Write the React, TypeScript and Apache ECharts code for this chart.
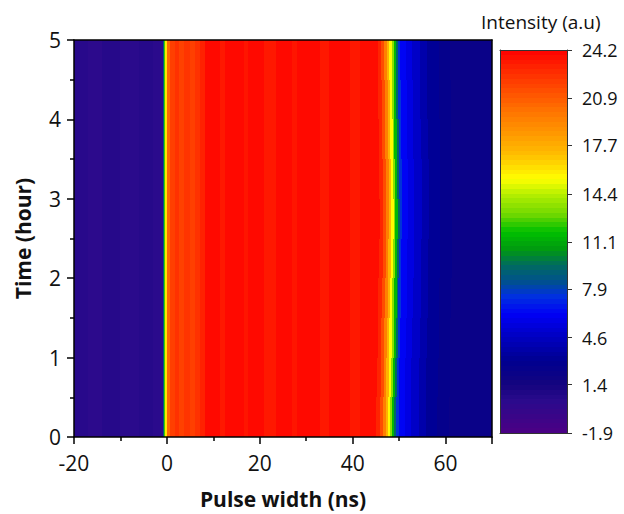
import React, { useEffect, useRef } from 'react';
import * as echarts from 'echarts';

// ---- axis ticks ----
const xMin = -20;
const xMax = 70;
const yMin = 0;
const yMax = 5;
const colorbarTicks = [-1.9, 1.4, 4.6, 7.9, 11.1, 14.4, 17.7, 20.9, 24.2];

// ---- time rows (hours) and falling-edge position per row (ns) ----
const timeRowBounds = [0, 0.5, 1, 1.5, 2, 2.5, 3, 3.5, 4, 4.5, 5];
const fallEdgeByRow = [48.7, 48.85, 49.0, 49.15, 49.3, 49.4, 49.35, 49.2, 49.1, 49.0];

// ---- fixed pulse profile: column bounds (ns) and intensities ----
const baseBounds = [-20, -17, -14, -10, -6, -3, -0.78, -0.56, -0.35, -0.04, 0.7, 1.8, 2.6, 3.6, 5.0, 6.0, 7.2, 8.3, 11.4, 12.6, 16.5, 17.5, 21.0, 23.6, 27.0, 28.0, 33.0, 35.0, 39.4, 41.5, 47];
const baseLevels = [0.4, 0.2, 0.5, 0.3, 0.5, 0.3, 9, 12.5, 16, 20.5, 22.0, 22.5, 21.9, 22.4, 22.0, 22.5, 23.1, 23.9, 23.4, 23.9, 23.5, 23.9, 23.4, 23.9, 23.5, 23.9, 23.4, 23.9, 23.4, 23.8];

// ---- falling edge profile: offsets from edge (ns) and intensities ----
const fallOffsets = [-3.6, -2.8, -2.2, -1.6, -1.1, -0.6, -0.2, 0.3, 0.7, 1.2, 2.5, 3.8, 5.5, 7.0, 9.5, 12.0, 25];
const fallLevels = [23.0, 21.5, 19.5, 17.5, 15.5, 13.5, 11.5, 9.5, 7.5, 6.3, 5.6, 4.8, 3.9, 3.2, 2.6, 2.2];

// ---- colour map (style) ----
const cmapValues = [-1.9, 0.3, 1.4, 3.0, 4.6, 6.2, 7.4, 8.4, 9.5, 10.6, 11.8, 13.0, 14.4, 15.4, 17.0, 18.5, 20.0, 21.5, 23.0, 24.2];
const cmapColors = ['#4c0084', '#2a0a8c', '#14047f', '#000090', '#0000c0', '#0000f6', '#0030e0', '#005090', '#006a60', '#009a10', '#00c000', '#70d800', '#b8f000', '#ffff00', '#ffc000', '#ff9800', '#ff7400', '#ff4c00', '#ff2400', '#ff0000'];

function hexToRgb(h: string) {
  return [parseInt(h.slice(1, 3), 16), parseInt(h.slice(3, 5), 16), parseInt(h.slice(5, 7), 16)];
}
function colorFor(v: number) {
  let k = 0;
  while (k < cmapValues.length - 2 && v > cmapValues[k + 1]) k++;
  const t = Math.max(0, Math.min(1, (v - cmapValues[k]) / (cmapValues[k + 1] - cmapValues[k])));
  const a = hexToRgb(cmapColors[k]);
  const b = hexToRgb(cmapColors[k + 1]);
  const c = a.map((x, j) => Math.round(x + (b[j] - x) * t));
  return `rgb(${c[0]},${c[1]},${c[2]})`;
}
function bandedGradient(lo: number, hi: number, bands: number) {
  const stops: { offset: number; color: string }[] = [];
  for (let i = 0; i < bands; i++) {
    const c = colorFor(lo + ((i + 0.5) * (hi - lo)) / bands);
    stops.push({ offset: i / bands, color: c });
    stops.push({ offset: (i + 1) / bands, color: c });
  }
  return new echarts.graphic.LinearGradient(0, 1, 0, 0, stops);
}

function buildCells() {
  const cells: number[][] = [];
  for (let r = 0; r < fallEdgeByRow.length; r++) {
    const y0 = timeRowBounds[r];
    const y1 = timeRowBounds[r + 1];
    const e = fallEdgeByRow[r];
    const cut = e + fallOffsets[0];
    for (let j = 0; j < baseLevels.length; j++) {
      const x0 = baseBounds[j];
      const x1 = Math.min(baseBounds[j + 1], cut);
      if (x1 > x0) cells.push([x0, x1, y0, y1, baseLevels[j]]);
    }
    for (let k = 0; k < fallLevels.length; k++) {
      const x0 = e + fallOffsets[k];
      const x1 = Math.min(e + fallOffsets[k + 1], xMax);
      if (x1 > x0) cells.push([x0, x1, y0, y1, fallLevels[k]]);
    }
  }
  return cells;
}

const FONT = 'Open Sans';

export default function App() {
  const ref = useRef<HTMLDivElement>(null);
  useEffect(() => {
    if (!ref.current) return;
    const chart = echarts.init(ref.current, undefined, { renderer: 'svg' });
    const cells = buildCells();
    const frameAxis = { show: true, onZero: false, lineStyle: { color: '#000', width: 1.5 } };
    const cbLine = { show: true, onZero: false, lineStyle: { color: '#333', width: 1 } };
    const hidden = { axisTick: { show: false }, axisLabel: { show: false }, splitLine: { show: false } };
    const cbMin = colorbarTicks[0];
    const cbMax = colorbarTicks[colorbarTicks.length - 1];
    const option: any = {
      animation: false,
      backgroundColor: '#fff',
      textStyle: { fontFamily: FONT },
      graphic: [
        {
          type: 'text',
          x: 481,
          y: 21.5,
          style: { text: 'Intensity (a.u)', font: `19px "${FONT}"`, fill: '#111', verticalAlign: 'middle', align: 'left' },
        },
      ],
      grid: [
        { left: 74, top: 40, width: 418, height: 400, containLabel: false },
        { left: 500, top: 50, width: 67, height: 383, containLabel: false },
      ],
      xAxis: [
        {
          gridIndex: 0,
          type: 'value',
          min: xMin,
          max: xMax,
          interval: 20,
          position: 'bottom',
          z: 10,
          axisLine: frameAxis,
          axisTick: { show: true, inside: false, length: 7, lineStyle: { color: '#000', width: 1.5 } },
          minorTick: { show: true, splitNumber: 2, length: 4, lineStyle: { color: '#000', width: 1.5 } },
          axisLabel: { show: true, fontSize: 21, color: '#111', margin: 15, fontFamily: FONT, showMaxLabel: false },
          splitLine: { show: false },
          name: 'Pulse width (ns)',
          nameLocation: 'middle',
          nameGap: 51,
          nameTextStyle: { fontSize: 21, fontWeight: 'bold', color: '#111', fontFamily: FONT },
        },
        { gridIndex: 0, type: 'value', min: xMin, max: xMax, position: 'top', z: 10, axisLine: frameAxis, ...hidden },
        { gridIndex: 1, type: 'value', min: 0, max: 1, position: 'bottom', z: 10, axisLine: cbLine, ...hidden },
        { gridIndex: 1, type: 'value', min: 0, max: 1, position: 'top', z: 10, axisLine: cbLine, ...hidden },
      ],
      yAxis: [
        {
          gridIndex: 0,
          type: 'value',
          min: yMin,
          max: yMax,
          interval: 1,
          position: 'left',
          z: 10,
          axisLine: frameAxis,
          axisTick: { show: true, inside: false, length: 7, lineStyle: { color: '#000', width: 1.5 } },
          minorTick: { show: true, splitNumber: 2, length: 4, lineStyle: { color: '#000', width: 1.5 } },
          axisLabel: { show: true, fontSize: 21, color: '#111', margin: 13, fontFamily: FONT },
          splitLine: { show: false },
          name: 'Time (hour)',
          nameLocation: 'middle',
          nameGap: 41,
          nameTextStyle: { fontSize: 21, fontWeight: 'bold', color: '#111', fontFamily: FONT },
        },
        { gridIndex: 0, type: 'value', min: yMin, max: yMax, position: 'right', z: 10, axisLine: frameAxis, ...hidden },
        { gridIndex: 1, type: 'value', min: cbMin, max: cbMax, position: 'left', z: 10, axisLine: cbLine, ...hidden },
        {
          gridIndex: 1,
          type: 'value',
          min: cbMin,
          max: cbMax,
          position: 'right',
          z: 10,
          axisLine: cbLine,
          axisTick: { show: true, inside: false, length: 5, customValues: colorbarTicks, lineStyle: { color: '#333', width: 1 } },
          axisLabel: {
            show: true,
            fontSize: 18,
            color: '#111',
            margin: 15,
            fontFamily: FONT,
            customValues: colorbarTicks,
            formatter: (v: number) => v.toFixed(1),
          },
          splitLine: { show: false },
        },
      ],
      series: [
        {
          type: 'custom',
          xAxisIndex: 0,
          yAxisIndex: 0,
          clip: true,
          encode: { x: [0, 1], y: [2, 3] },
          data: cells,
          renderItem: (params: any, api: any) => {
            const p0 = api.coord([api.value(0), api.value(3)]);
            const p1 = api.coord([api.value(1), api.value(2)]);
            const x0 = Math.round(p0[0]);
            const x1 = Math.round(p1[0]);
            const y0 = Math.round(p0[1]);
            const y1 = Math.round(p1[1]);
            return {
              type: 'rect',
              shape: { x: x0, y: y0, width: Math.max(1, x1 - x0), height: y1 - y0 },
              style: { fill: colorFor(api.value(4)) },
            };
          },
        },
        {
          type: 'custom',
          xAxisIndex: 2,
          yAxisIndex: 2,
          clip: false,
          encode: { y: [0, 1] },
          data: [[cbMin, cbMax]],
          renderItem: (params: any, api: any) => {
            const p0 = api.coord([0, api.value(1)]);
            const p1 = api.coord([1, api.value(0)]);
            return {
              type: 'rect',
              shape: { x: p0[0], y: p0[1], width: p1[0] - p0[0], height: p1[1] - p0[1] },
              style: { fill: bandedGradient(cbMin, cbMax, 80) },
            };
          },
        },
      ],
    };
    chart.setOption(option);
    return () => chart.dispose();
  }, []);
  return <div ref={ref} style={{ position: 'fixed', left: 0, top: 0, width: 624, height: 514 }} />;
}
